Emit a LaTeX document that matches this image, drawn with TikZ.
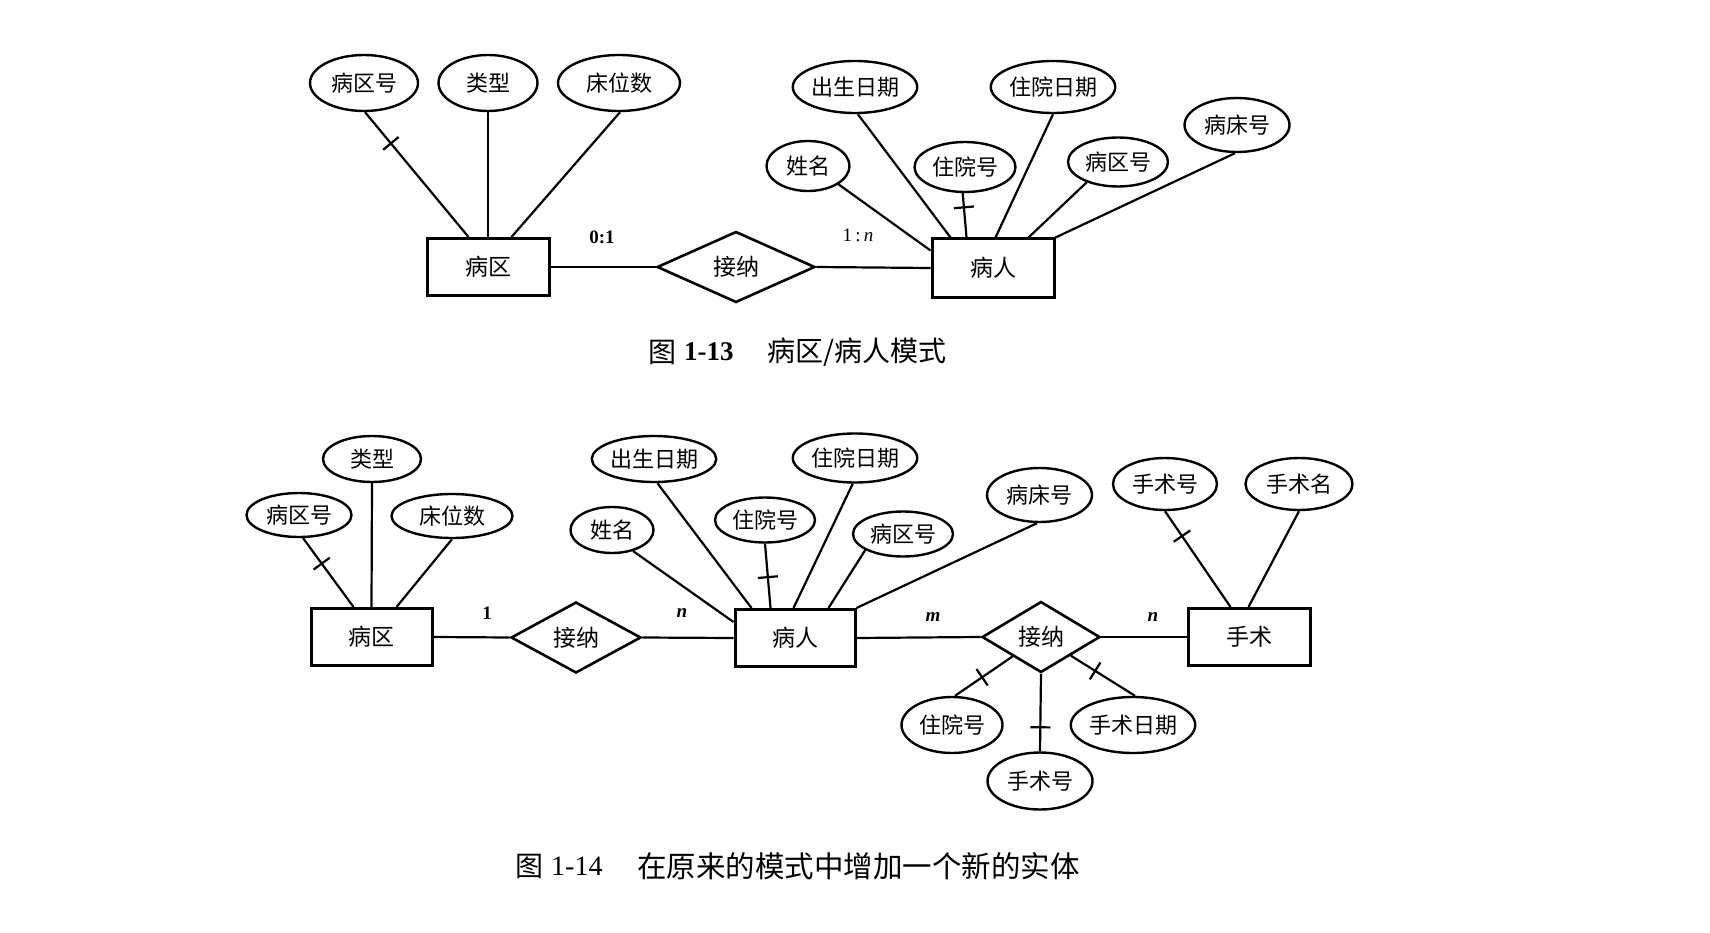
\documentclass[tikz,border=0pt]{standalone}
\usepackage{fontspec}
\setmainfont{Liberation Serif}
\newfontfamily\cjk{Noto Sans CJK SC}
\usetikzlibrary{shapes.geometric,decorations.markings}
\begin{document}
\begin{tikzpicture}[x=1pt,y=-1pt,
  attr/.style={ellipse,draw,line width=2.4pt,inner sep=0pt,font=\cjk\fontsize{22}{22}\selectfont},
  ent/.style={rectangle,draw,line width=3pt,inner sep=0pt,minimum width=121pt,minimum height=57pt,font=\cjk\fontsize{23}{23}\selectfont},
  rel/.style={diamond,draw,line width=2.6pt,inner sep=0pt,font=\cjk\fontsize{23}{23}\selectfont},
  conn/.style={line width=2.2pt},
  keytick/.style={postaction={decorate,decoration={markings,mark=at position #1 with {\draw[line width=2.2pt] (0,-10) -- (0,10);}}}},
  card/.style={inner sep=0pt,font=\fontsize{19}{19}\selectfont\bfseries},
  capcjk/.style={inner sep=0pt,anchor=west,font=\cjk\fontsize{28}{28}\selectfont},
]
\useasboundingbox (0,0) rectangle (1710,933);
\fill[white] (0,0) rectangle (1710,933);

% ---------- Figure 1-13 ----------
\node[attr,minimum width=108pt,minimum height=56pt] (e1a) at (364,83) {病区号};
\node[attr,minimum width=99pt,minimum height=56pt] (e1b) at (488,83) {类型};
\node[attr,minimum width=122pt,minimum height=56pt] (e1c) at (619,83) {床位数};
\node[attr,minimum width=124pt,minimum height=52pt] (e1d) at (855,87) {出生日期};
\node[attr,minimum width=120pt,minimum height=52pt] (e1e) at (1053,87) {住院日期};
\node[attr,minimum width=105pt,minimum height=54pt] (e1f) at (1237,125) {病床号};
\node[attr,minimum width=83pt,minimum height=50pt] (e1g) at (808,166) {姓名};
\node[attr,minimum width=101pt,minimum height=50pt] (e1h) at (965,167) {住院号};
\node[attr,minimum width=100pt,minimum height=49pt] (e1i) at (1118,162) {病区号};
\node[ent,minimum width=122pt] (r1a) at (488,267) {病区};
\node[ent,minimum width=122pt,minimum height=58pt] (r1b) at (993,268) {病人};
\node[rel,minimum width=158pt,minimum height=71pt] (d1) at (736,267) {接纳};

\draw[conn,keytick=0.25] (e1a.-88) -- ([xshift=43pt]r1a.north west);
\draw[conn] (e1b.south) -- (r1a.north);
\draw[conn] (e1c.-88) -- ([xshift=86pt]r1a.north west);
\draw[conn] (e1g.-31) -- ([yshift=-13pt]r1b.north west);
\draw[conn] (e1d.-84) -- ([xshift=20pt]r1b.north west);
\draw[conn,keytick=0.32] (e1h.-95) -- ([xshift=36pt]r1b.north west);
\draw[conn] (e1e.south) -- ([xshift=65pt]r1b.north west);
\draw[conn] (e1i.-147) -- ([xshift=98pt]r1b.north west);
\draw[conn] (e1f.-94) -- (r1b.north east);
\draw[conn] (r1a.east) -- (d1.west);
\draw[conn] (d1.east) -- (r1b.west);

\node[card] (l1a) at (602,237) {0:1};
\node[card,font=\fontsize{19}{19}\selectfont] (l1b) at (858,235) {1\,:\,\textit{n}};

\node[capcjk] (c1a) at (648,352) {图};
\node[inner sep=0pt,anchor=west,font=\fontsize{27}{27}\selectfont\bfseries] (c1b) at (684,352) {1-13};
\node[capcjk] (c1c) at (767,352) {病区/病人模式};

% ---------- Figure 1-14 ----------
\node[attr,minimum width=98pt,minimum height=46pt] (e2a) at (372,459) {类型};
\node[attr,minimum width=105pt,minimum height=44pt] (e2b) at (299,515) {病区号};
\node[attr,minimum width=121pt,minimum height=44pt] (e2c) at (452,516) {床位数};
\node[ent] (r2a) at (371.5,637) {病区};
\node[rel,minimum width=130pt,minimum height=71pt] (d2a) at (576,637.5) {接纳};
\node[attr,minimum width=122pt,minimum height=46pt] (e2d) at (654,459) {出生日期};
\node[attr,minimum width=83pt,minimum height=46pt] (e2e) at (612,530) {姓名};
\node[attr,minimum width=100pt,minimum height=45pt] (e2f) at (765,520) {住院号};
\node[attr,minimum width=120pt,minimum height=49pt] (e2g) at (855,458) {住院日期};
\node[attr,minimum width=100pt,minimum height=45pt] (e2h) at (903,534) {病区号};
\node[attr,minimum width=105pt,minimum height=54pt] (e2i) at (1039.5,495) {病床号};
\node[ent,minimum width=120pt] (r2b) at (795,638) {病人};
\node[rel,minimum width=118pt,minimum height=71pt] (d2b) at (1041,637) {接纳};
\node[ent,minimum width=122pt] (r2c) at (1249,637) {手术};
\node[attr,minimum width=104pt,minimum height=52pt] (e2j) at (1165,484) {手术号};
\node[attr,minimum width=107pt,minimum height=52pt] (e2k) at (1299,484) {手术名};
\node[attr,minimum width=101pt,minimum height=56pt] (e2l) at (952,725) {住院号};
\node[attr,minimum width=105pt,minimum height=57pt] (e2m) at (1040,781) {手术号};
\node[attr,minimum width=120pt,minimum height=56pt] (e2n) at (1133,725) {手术日期};

\draw[conn,keytick=0.37] (e2b.-80) -- ([xshift=44pt]r2a.north west);
\draw[conn] (e2a.south) -- (r2a.north);
\draw[conn] (e2c.south) -- ([xshift=87pt]r2a.north west);
\draw[conn] (r2a.east) -- (d2a.west);
\draw[conn] (d2a.east) -- (r2b.west);
\draw[conn] (e2e.-45) -- ([yshift=-14pt]r2b.north west);
\draw[conn] (e2d.-82) -- ([xshift=18pt]r2b.north west);
\draw[conn,keytick=0.52] (e2f.south) -- ([xshift=37pt]r2b.north west);
\draw[conn] (e2g.-95) -- ([xshift=60pt]r2b.north west);
\draw[conn] (e2h.-157) -- ([xshift=95pt]r2b.north west);
\draw[conn] (e2i.-95) -- (r2b.north east);
\draw[conn] (r2b.east) -- (d2b.west);
\draw[conn] (d2b.east) -- (r2c.west);
\draw[conn,keytick=0.26] (e2j.south) -- ([xshift=44pt]r2c.north west);
\draw[conn] (e2k.south) -- ([xshift=62pt]r2c.north west);
\draw[conn,keytick=0.53] (d2b) -- ([xshift=3pt]e2l.north);
\draw[conn,keytick=0.69] (d2b.south) -- (e2m.north);
\draw[conn,keytick=0.38] (d2b) -- ([xshift=2pt]e2n.north);

\node[card] (l2a) at (487,613) {1};
\node[card] (l2b) at (682,613) {\textit{n}};
\node[card] (l2c) at (933,617) {\textit{m}};
\node[card] (l2d) at (1153,617) {\textit{n}};

\node[capcjk] (c2a) at (515,866) {图};
\node[inner sep=0pt,anchor=west,font=\fontsize{28}{28}\selectfont] (c2b) at (551,866) {1-14};
\node[capcjk,font=\cjk\fontsize{29.5}{29.5}\selectfont] (c2c) at (637,866) {在原来的模式中增加一个新的实体};
\end{tikzpicture}
\end{document}
